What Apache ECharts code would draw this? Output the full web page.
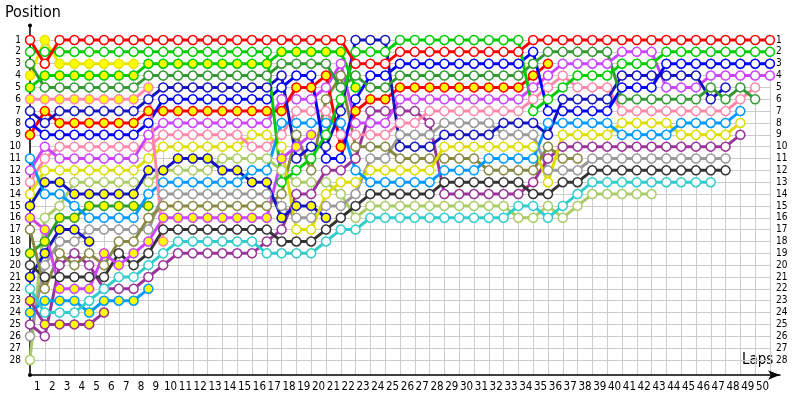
<!DOCTYPE html>
<html>
<head>
<meta charset="utf-8">
<script src="https://cdn.jsdelivr.net/npm/echarts@6/dist/echarts.min.js"></script>
<style>
html,body{margin:0;padding:0;background:#fff}
#chart{width:800px;height:400px}
</style>
</head>
<body>
<div id="chart"></div>
<script>
// position per column: index 0 = grid, then laps 1..50. array ends when the car drops out
const lapLabels = ['1','2','3','4','5','6','7','8','9','10','11','12','13','14','15','16','17','18','19','20','21','22','23','24','25','26','27','28','29','30','31','32','33','34','35','36','37','38','39','40','41','42','43','44','45','46','47','48','49','50'];
const posLabels = [1,2,3,4,5,6,7,8,9,10,11,12,13,14,15,16,17,18,19,20,21,22,23,24,25,26,27,28];

const red1 = [1,3, 1,1,1,1,1,1,1,1,1,1, 1,1,1,1,1,1,1,1,1,1, 3,3,3, 2,2,2,2,2,2,2,2,2, 1,1,1,1,1,1,1,1,1,1,1,1,1,1,1,1,1];
const green1 = [2,2,2,2,2,2,2,2,2,2,2,2,2,2,2,2,2, 13,12,11,9,6, 2,2,2, 1,1,1,1,1,1,1,1,1, 7,6,5, 4,4,4, 3,3,3, 2,2,2,2,2,2,2,2];
const green2 = [5,4, 4,4,4,4,4,4, 3,3,3,3,3,3,3,3,3, 2,2,2,2,2, 5];
const darkGreen = [3,5, 5,5,5,5,5,5, 4,4,4,4,4,4,4,4,4, 3,3,3,3, 5,4, 5,5, 4,4,4,4,4,4,4,4,4, 3, 2,2,2,2,2, 6,6,6,6,6,6, 5,6,5,6];
const yellow1 = [4,1,3,3,3,3,3,3];
const pink1 = [6,6,6,6,6,6,6,6,5,18];
const darkBlue1 = [7,8, 7,7,7,7,7,7, 6, 5,5,5,5,5,5,5,5, 4,11,10,10,7, 1,1,1, 10,10,10, 9,9,9,9, 8,8,8, 9, 6,6,6,6, 4,4,4,4,4,4, 6,5];
const blue = [8,9, 9,9,9,9,9,9, 8, 6,6,6,6,6,6,6,6, 5,4,4,11,11,6, 4,4, 3,3,3,3,3,3,3,3,3, 2, 7,7,7,7,7, 5,5,5, 3,3,3,3,3,3,3,3];
const red2 = [9,7, 8,8,8,8,8,8, 7, 7,7,7,7,7,7,7,7,7, 5,5,4,10,7, 6,6, 5,5,5,5,5,5,5,5,5, 4,3];
const magenta = [12,10, 11,11,11,11,11,11, 9, 8,8,8,8,8,8,8,8, 6,6,6,5,3, 8,8,8, 6,6,6,6,6,6,6,6,6, 5,4, 3,3,3,3, 2,2,2, 5,5,5, 4,4,4,4,4];
const pink2 = [13,11, 10,10,10,10,10,10,10, 9,9,9,9,9,9, 10,10, 9,7,7,7,9, 9,9,9, 8,8, 7,7,7,7,7,7,7, 6,5,4, 5,5,5, 7,7,7,7,7,7,7,7, 6,5];
const yellow2 = [14, 12,12,12,12,12,12,12, 11, 10,10,10,10,10,10, 9,9, 10,17,17,14,13,13, 12,12,12,12,12, 10,10,10,10,10,10, 10,13, 9,9,9,9, 8,8,8,8, 9,9,9,9, 8];
const darkBlue2 = [15, 13,13, 14,14,14,14,14, 12,12, 11,11,11, 12,12, 13,13, 16,15,15,16];
const magenta2 = [16,17, 22,22,22, 19,20,19,18, 16,16,16,16,16,16,16,16, 11,10,9];
const olive = [17,22,19,20,19,20,18,18,16, 15,15,15,15,15,15,15,15, 14,9,12,6,4, 10,10,10, 11,11,11,11,11,11, 12,12,12, 12,10,11,11];
const darkGreen2 = [19,18,16,16,15,15,15,15,15];
const black = [20, 21,21,21,21,21, 19,20,19, 17,17,17,17,17,17,17,17, 18,18,18,17,16,15, 14,14,14,14,14, 13,13,13,13,13,13, 14,14,13,13, 12,12,12,12,12,12,12,12,12,12];
const darkBlue3 = [21,19,17,17,18];
const cyan = [22, 24,24,24, 23,22,21,21,20,19, 18,18,18,18,18,18, 19,19,19,19, 18,17,17, 16,16,16,16,16,16,16,16,16,16, 15,15,16,15,14, 13,13,13,13,13,13,13,13,13];
const purple2 = [23,25,25,25,25,24];
const lightBlue2 = [24,23,23,23,24,23,23,23,22];
const purple = [25,26,20,19,20,22,22,22,21,20, 19,19,19,19,19,19, 18,17,14,14,12,12,11, 7,7,7,7,8, 14,14,14,14,14,14, 13,11, 10,10,10,10,10,10,10,10,10,10,10,10, 9];
const lightBlue = [11,14,14,15,16,16,16,16,14, 13,13,13,13,13,13, 12,12, 8,8,8,8,8, 12, 13,13,13,13,13, 12,12,12, 11,11,11, 11, 8,8,8,8,8, 9,9,9,9, 8,8,8,8, 7];
const grey = [26,20,18,18,17,17,17,17,17, 14,14,14,14,14,14,14,14, 15,16,16,15,15,14, 11,11, 9,9,9, 8,8,8,8, 9,9,9, 12,12,12, 11,11,11,11,11,11,11,11,11,11];
const lightGreen = [28,16,15,13,13,13,13,13,13, 12,12,12,12, 11,11,11,11, 12,13,13,13,14,16, 15,15,15,15,15,15,15,15,15,15, 16,16,15,16,15, 14,14,14,14,14];

// drawn bottom first
const cars = [
  {pos: lightGreen, color: '#aacc66', yellow: false},
  {pos: grey, color: '#999999', yellow: false},
  {pos: purple, color: '#993399', yellow: false},
  {pos: lightBlue2, color: '#0099ff', yellow: true},
  {pos: purple2, color: '#993399', yellow: true},
  {pos: cyan, color: '#33cccc', yellow: false},
  {pos: darkBlue3, color: '#1515c0', yellow: true},
  {pos: black, color: '#333333', yellow: false},
  {pos: darkGreen2, color: '#2e9e2e', yellow: true},
  {pos: olive, color: '#888844', yellow: false},
  {pos: magenta2, color: '#cc44ff', yellow: true},
  {pos: darkBlue2, color: '#1515c0', yellow: true},
  {pos: yellow2, color: '#dddd00', yellow: false},
  {pos: pink2, color: '#ff88aa', yellow: false},
  {pos: magenta, color: '#cc44ff', yellow: false},
  {pos: lightBlue, color: '#0099ff', yellow: false},
  {pos: red2, color: '#ff0000', yellow: true},
  {pos: blue, color: '#0000ff', yellow: false},
  {pos: darkBlue1, color: '#1515c0', yellow: false},
  {pos: pink1, color: '#ff88aa', yellow: true},
  {pos: yellow1, color: '#e6e600', yellow: true},
  {pos: darkGreen, color: '#339933', yellow: false},
  {pos: green2, color: '#00cc00', yellow: true},
  {pos: green1, color: '#00cc00', yellow: false},
  {pos: red1, color: '#ff0000', yellow: false}
];

const font = "'DejaVu Sans Condensed', 'Liberation Sans', sans-serif";

const series = cars.map(function (c) {
  return {
    type: 'line',
    xAxisIndex: 0,
    yAxisIndex: 0,
    data: c.pos.map(function (p, k) { return [k, p]; }),
    symbol: 'circle',
    symbolSize: 9,
    lineStyle: {color: c.color, width: 3},
    itemStyle: {color: c.yellow ? '#ffff00' : '#ffffff', borderColor: c.color, borderWidth: 1.5},
    clip: false,
    silent: true
  };
});

const chart = echarts.init(document.getElementById('chart'));
chart.setOption({
  animation: false,
  backgroundColor: '#fff',
  grid: [
    {left: 30, right: 20, top: 25, bottom: 25},   // data + axis lines
    {left: 30, right: 30, top: 35, bottom: 25},   // vertical grid, lap labels
    {left: 30, right: 30, top: 40, bottom: 40}    // horizontal grid, position labels
  ],
  xAxis: [
    {type: 'value', gridIndex: 0, min: 0, max: 50.68, position: 'bottom',
      axisLine: {onZero: false, lineStyle: {color: '#000', width: 1.5}, symbol: ['none', 'arrow'], symbolSize: [7, 12]},
      axisTick: {show: false}, axisLabel: {show: false}, splitLine: {show: false}},
    {type: 'value', gridIndex: 1, min: 0, max: 50, interval: 1,
      axisLine: {show: false}, axisTick: {show: false}, axisLabel: {show: false},
      splitLine: {show: true, lineStyle: {color: '#cccccc', width: 1}}},
    {type: 'category', gridIndex: 1, data: lapLabels, boundaryGap: true, position: 'bottom',
      axisLine: {show: false}, axisTick: {show: false},
      axisLabel: {interval: 0, margin: 6, color: '#000', fontSize: 11.5, fontFamily: font}},
    {type: 'value', gridIndex: 2, min: 0, max: 1, show: false}
  ],
  yAxis: [
    {type: 'value', gridIndex: 0, inverse: true, min: -0.266, max: 29.27,
      axisLine: {show: true, onZero: false, lineStyle: {color: '#000', width: 1.5}},
      axisTick: {show: false}, axisLabel: {show: false}, splitLine: {show: false}},
    {type: 'value', gridIndex: 1, min: 0, max: 1, show: false},
    {type: 'value', gridIndex: 2, inverse: true, min: 1, max: 28, interval: 1, position: 'left',
      axisLine: {show: false}, axisTick: {show: false},
      axisLabel: {margin: 9, color: '#000', fontSize: 10, fontFamily: font,
        formatter: function (v) { return posLabels.indexOf(v) >= 0 ? String(v) : ''; }},
      splitLine: {show: true, lineStyle: {color: '#cccccc', width: 1}}},
    {type: 'value', gridIndex: 2, inverse: true, min: 1, max: 28, interval: 1, position: 'right',
      axisLine: {show: false}, axisTick: {show: false},
      axisLabel: {margin: 6, color: '#000', fontSize: 10, fontFamily: font,
        formatter: function (v) { return posLabels.indexOf(v) >= 0 ? String(v) : ''; }},
      splitLine: {show: false}}
  ],
  graphic: [
    {type: 'text', left: 5, top: 5, style: {text: 'Position', fontSize: 16, fontFamily: font, fill: '#000'}},
    {type: 'text', left: 742, top: 353, style: {text: 'Laps', fontSize: 15, fontFamily: font, fill: '#000'}},
    {type: 'circle', shape: {cx: 30, cy: 375, r: 2}, style: {fill: '#000'}},
    {type: 'circle', shape: {cx: 30, cy: 25.5, r: 2}, style: {fill: '#000'}}
  ],
  series: series
});
</script>
</body>
</html>
